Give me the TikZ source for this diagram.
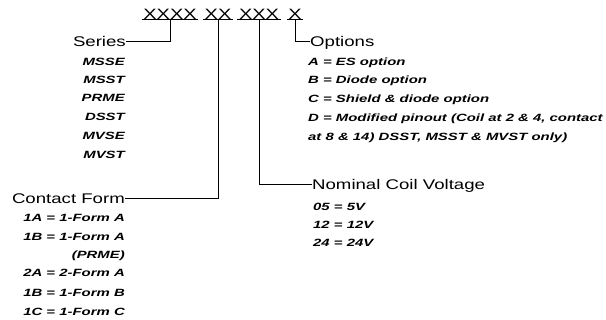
\documentclass[tikz,border=0pt]{standalone}
\usepackage{fontspec}
\setmainfont{Liberation Sans}
\newfontfamily\titlefont[FakeStretch=1.33]{Liberation Sans}
\newfontfamily\itemfont[FakeStretch=1.42]{Liberation Sans}
\begin{document}
\begin{tikzpicture}[x=1pt,y=-1pt,
  title/.style={font=\titlefont\fontsize{14}{16}\selectfont, inner sep=0pt, text height=10pt, text depth=0pt},
  code/.style={font=\titlefont\fontsize{15}{16}\selectfont, inner sep=0pt, text depth=0pt},
  itm/.style={font=\itemfont\bfseries\itshape\fontsize{10.5}{12}\selectfont, inner sep=0pt},
  conn/.style={line width=1pt}]
\useasboundingbox (0,0) rectangle (606,320);
% code groups
\node[code, anchor=south] (g1) at (170,19.5) {XXXX};
\node[code, anchor=south] (g2) at (218,19.5) {XX};
\node[code, anchor=south] (g3) at (259,19.5) {XXX};
\node[code, anchor=south] (g4) at (295,19.5) {X};
\foreach \g in {g1,g2,g3,g4}{
  \draw[conn] ([xshift=-1.5pt]\g.south west) -- ([xshift=1.5pt]\g.south east);
}
% titles
\node[title, anchor=east] (series) at (126,42) {Series};
\node[title, anchor=west] (options) at (310,42) {Options};
\node[title, anchor=east] (contact) at (125,199) {Contact Form};
\node[title, anchor=west] (voltage) at (312,185) {Nominal Coil Voltage};
% connectors
\draw[conn] (g1.south) |- (series.east);
\draw[conn] (g2.south) |- (contact.east);
\draw[conn] (g3.south) |- (voltage.west);
\draw[conn] (g4.south) |- (options.west);
% series items
\foreach \t/\y [count=\i] in {MSSE/66, MSST/84, PRME/102, DSST/121, MVSE/140, MVST/159}{
  \node[itm, anchor=base east] (s\i) at (125,\y) {\t};
}
% contact form items
\foreach \t/\y [count=\i] in {1A = 1-Form A/222, 1B = 1-Form A/241, (PRME)/259, 2A = 2-Form A/277, 1B = 1-Form B/297, 1C = 1-Form C/316}{
  \node[itm, anchor=base east] (c\i) at (125,\y) {\t};
}
% options items
\foreach \t/\y [count=\i] in {A = ES option/66, B = Diode option/84, C = Shield \& diode option/103, {D = Modified pinout (Coil at 2 \& 4, contact}/122, {at 8 \& 14) DSST, MSST \& MVST only)}/141}{
  \node[itm, anchor=base west] (o\i) at (308,\y) {\t};
}
% voltage items
\foreach \t/\y [count=\i] in {05 = 5V/211, 12 = 12V/229, 24 = 24V/247}{
  \node[itm, anchor=base west] (v\i) at (313,\y) {\t};
}
\end{tikzpicture}
\end{document}
